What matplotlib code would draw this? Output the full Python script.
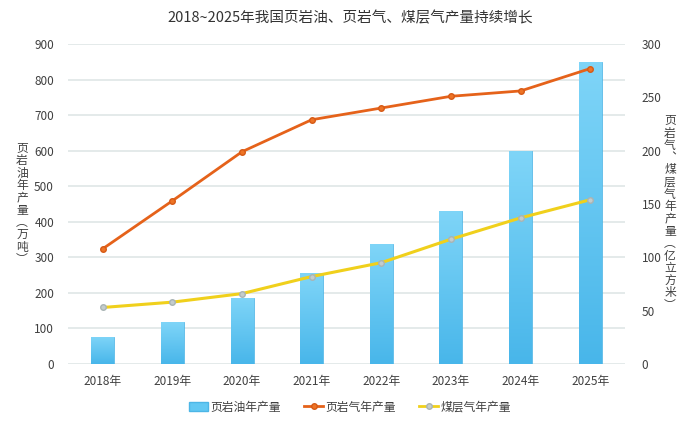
import matplotlib
matplotlib.use('Agg')
import matplotlib.pyplot as plt
import numpy as np
from matplotlib.patches import Patch
from matplotlib.lines import Line2D

plt.rcParams['font.family'] = ['Noto Sans CJK SC', 'DejaVu Sans']

# 数据
years = ['2018年', '2019年', '2020年', '2021年', '2022年', '2023年', '2024年', '2025年']
shale_oil = [77, 118, 186, 255, 337, 431, 599, 850]        # 万吨
shale_gas = [108, 153, 199, 229, 240, 251, 256, 277]       # 亿立方米
cbm = [53, 58, 66, 82, 95, 117, 137, 154]                  # 亿立方米

title = '2018~2025年我国页岩油、页岩气、煤层气产量持续增长'
left_label = '页岩油年产量（万吨）'
right_label = '页岩气、煤层气年产量（亿立方米）'

text_color = '#404040'
grid_color = '#dfe6e6'

fig = plt.figure(figsize=(7, 4.24), dpi=100)
ax = fig.add_axes([0.097, 0.1415, 0.796, 0.7547])
ax2 = ax.twinx()

x = np.arange(len(years))

# 柱状图（渐变色）
bars = ax.bar(x, shale_oil, width=0.33, color='#62c8f3', edgecolor='#4db6e6', linewidth=0.6, zorder=2)
grad = np.linspace(0, 1, 256).reshape(-1, 1)
cmap = matplotlib.colors.LinearSegmentedColormap.from_list('b', ['#48b6ea', '#7fd5f8'])
for b in bars:
    bx, by = b.get_x(), b.get_y()
    im = ax.imshow(grad, extent=[bx, bx + b.get_width(), by, by + b.get_height()],
                   origin='lower', aspect='auto', cmap=cmap, zorder=2)
    im.set_clip_path(b)
    b.set_facecolor('none')

ax.set_xlim(-0.5, len(years) - 0.5)
ax.set_ylim(0, 900)
ax.set_yticks(range(0, 901, 100))
ax2.set_ylim(0, 300)
ax2.set_yticks(range(0, 301, 50))

ax.grid(axis='y', color=grid_color, linewidth=1.2, zorder=0)
ax.set_axisbelow(True)

# 折线
ax2.plot(x, shale_gas, color='#e5621a', linewidth=2, marker='o', markersize=4,
         markerfacecolor='#ee7426', markeredgecolor='#d65a16', zorder=4)
ax2.plot(x, cbm, color='#f0d01c', linewidth=2.2, marker='o', markersize=4,
         markerfacecolor='#c4cccc', markeredgecolor='#a9b4b4', zorder=4)

for a in (ax, ax2):
    for s in a.spines.values():
        s.set_visible(False)
    a.tick_params(length=0, labelsize=8.5, colors=text_color)

ax.set_xticks(x)
ax.set_xticklabels(years)
ax.tick_params(axis='x', pad=8)
ax.tick_params(axis='y', pad=10)
ax2.tick_params(axis='y', pad=12)

# 竖排轴标题
def vertical(s):
    s = s.replace('（', '︵').replace('）', '︶').replace('、', '︑')
    return '\n'.join(s)

fig.text(22 / 700, 1 - 204 / 424, vertical(left_label), ha='center', va='center',
         fontsize=8.5, color=text_color, linespacing=0.93)
fig.text(670 / 700, 1 - 213 / 424, vertical(right_label), ha='center', va='center',
         fontsize=8.5, color=text_color, linespacing=0.93)

fig.text(0.5, 1 - 18 / 424, title, ha='center', va='center', fontsize=10.5, color='#333333')

handles = [
    Patch(facecolor='#62c8f3', edgecolor='#4db6e6', label='页岩油年产量'),
    Line2D([0], [0], color='#e5621a', linewidth=2, marker='o', markersize=4,
           markerfacecolor='#ee7426', markeredgecolor='#d65a16', label='页岩气年产量'),
    Line2D([0], [0], color='#f0d01c', linewidth=2, marker='o', markersize=4,
           markerfacecolor='#c4cccc', markeredgecolor='#a9b4b4', label='煤层气年产量'),
]
fig.legend(handles=handles, loc='center', bbox_to_anchor=(0.5, 1 - 407 / 424), ncol=3,
           frameon=False, fontsize=8.5, handlelength=1.6, handletextpad=0.2, columnspacing=2.0,
           labelcolor=text_color)

fig.savefig('out.png', dpi=100)
